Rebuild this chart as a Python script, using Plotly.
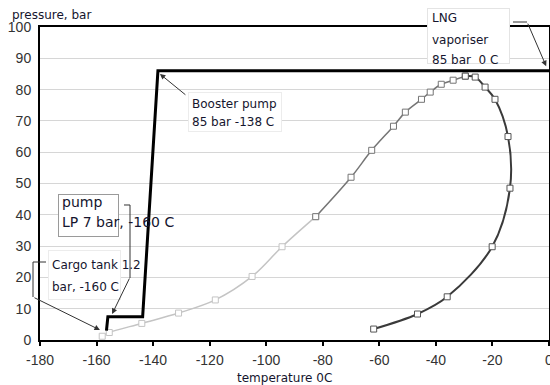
import plotly.graph_objects as go

# ---------------- data ----------------
x_ticks = [-180, -160, -140, -120, -100, -80, -60, -40, -20, 0]
y_ticks = [0, 10, 20, 30, 40, 50, 60, 70, 80, 90, 100]

# process path (cargo tank -> LP pump -> booster pump -> vaporiser)
proc_T = [-156.5, -156.0, -143.7, -138.3, 0.0]
proc_P = [3.0, 7.4, 7.4, 86.0, 86.0]

# bubble line (left branch of the phase envelope)
bubble_T = [-158, -155.5, -144, -131, -118, -105, -94.4, -82.5, -70, -62.7,
            -55, -50.8, -45.1, -42, -38.1, -33.9, -29.6]
bubble_P = [1.2, 2.4, 5.3, 8.6, 12.8, 20.3, 29.8, 39.4, 52, 60.6,
            68.3, 72.8, 76.9, 79.2, 81.7, 83.0, 84.3]

# dew line (right branch of the phase envelope)
dew_T = [-29.6, -26.1, -22.6, -19.1, -14.5, -13.8, -20.1, -36, -46.5, -62]
dew_P = [84.3, 84.0, 80.8, 76.9, 65.0, 48.5, 29.8, 13.8, 8.3, 3.5]

# ---------------- layout helpers ----------------
W, H = 550, 385
PL, PR, PT, PB = 40, 549, 27, 340


def fx(xp):
    return (xp - PL) / (PR - PL)


def fy(yp):
    return (PB - yp) / (PB - PT)


TXT = "#15152e"
FONT = "DejaVu Sans"

fig = go.Figure()

split = 7
fig.add_trace(go.Scatter(
    x=bubble_T[:split + 1], y=bubble_P[:split + 1], mode="lines+markers",
    line=dict(color="#c4c4c4", width=1.5, shape="spline"),
    marker=dict(symbol="square", size=6, color="white",
                line=dict(color="#c4c4c4", width=1)),
    hoverinfo="skip"))
fig.add_trace(go.Scatter(
    x=bubble_T[split:], y=bubble_P[split:], mode="lines+markers",
    line=dict(color="#757575", width=1.5, shape="spline"),
    marker=dict(symbol="square", size=6, color="white",
                line=dict(color="#757575", width=1)),
    hoverinfo="skip"))
fig.add_trace(go.Scatter(
    x=dew_T, y=dew_P, mode="lines+markers",
    line=dict(color="#3a3a3a", width=2, shape="spline"),
    marker=dict(symbol="square", size=6, color="white",
                line=dict(color="#555555", width=1)),
    hoverinfo="skip"))
fig.add_trace(go.Scatter(
    x=proc_T, y=proc_P, mode="lines",
    line=dict(color="black", width=3),
    hoverinfo="skip"))

annotations = []


def box(x0, y0, x1, y1, border="#d8d8d8"):
    annotations.append(dict(
        xref="paper", yref="paper", x=fx(x0), y=fy(y0),
        xanchor="left", yanchor="top", text=" ", showarrow=False,
        width=x1 - x0 - 2, height=y1 - y0 - 2, borderpad=0,
        bgcolor="white", bordercolor=border, borderwidth=1))


def text(x0, yc, s, size=12, anchor="left"):
    annotations.append(dict(
        xref="paper", yref="paper", x=fx(x0), y=fy(yc),
        xanchor=anchor, yanchor="middle", text=s, showarrow=False,
        font=dict(family=FONT, size=size, color=TXT)))


def arrow(tip_T, tip_P, dx, dy):
    annotations.append(dict(
        xref="x", yref="y", x=tip_T, y=tip_P, ax=dx, ay=dy,
        text="", showarrow=True, arrowhead=2, arrowsize=1.1,
        arrowwidth=1, arrowcolor="#333333"))


# boxes
box(427, 8, 510, 64, border="#e4e4e4")
box(188, 92, 282, 132, border="#ececec")
box(58, 194, 119, 237, border="#9a9a9a")
box(48, 250, 121, 300, border="#ececec")

# texts
text(430, 18, "LNG")
text(430, 40, "vaporiser")
text(430, 60, "85 bar  0 C")
text(190, 104, "Booster pump")
text(190, 122, "85 bar -138 C")
text(60, 202, "pump", size=14)
text(60, 222, "LP 7 bar, -160 C", size=14)
text(50, 265, "Cargo tank 1.2")
text(50, 287, "bar, -160 C")
text(10, 15, "pressure, bar")
text(284, 378, "temperature 0C", anchor="center")

# arrows
arrow(-1.0, 87.5, -19, -44)       # LNG vaporiser
arrow(-137.6, 85.0, 27, 22)       # booster pump
arrow(-154.5, 8.3, 18, -37)       # LP pump
arrow(-158.8, 3.2, -67, -33)      # cargo tank

# connector paths (paper coordinates)
shapes = []


def path(points):
    d = "M " + " L ".join(f"{fx(a):.5f},{fy(b):.5f}" for a, b in points)
    shapes.append(dict(type="path", xref="paper", yref="paper", path=d,
                       line=dict(color="#333333", width=1), layer="above"))


path([(513, 22), (527, 22)])
path([(124, 205), (130, 205), (130, 278)])
path([(46, 262), (33, 262), (33, 297)])

fig.update_layout(
    width=W, height=H,
    margin=dict(l=PL, r=W - PR, t=PT, b=H - PB, autoexpand=False),
    plot_bgcolor="white", paper_bgcolor="white",
    showlegend=False,
    annotations=annotations, shapes=shapes,
    xaxis=dict(range=[-180, 0], tickvals=x_ticks,
               ticktext=[str(v) for v in x_ticks],
               ticks="outside", ticklen=4, tickwidth=2, tickcolor="black",
               showline=True, linecolor="black", linewidth=2, mirror=True,
               showgrid=False, zeroline=False, ticklabeloverflow="allow",
               ticklabelstandoff=2, automargin=False,
               tickfont=dict(family="Liberation Sans", size=14, color="#333")),
    yaxis=dict(range=[0, 100], tickvals=y_ticks,
               ticks="", showline=True, linecolor="black", linewidth=2,
               mirror=True, showgrid=True, gridcolor="#d6d6d6", gridwidth=1,
               zeroline=False, ticklabelstandoff=4, automargin=False,
               tickfont=dict(family="Liberation Sans", size=14, color="#333")),
)

fig.write_html("out.html",
               config={"displayModeBar": False},
               post_script="document.body.style.margin='0';"
                           "document.body.style.overflow='hidden';")
